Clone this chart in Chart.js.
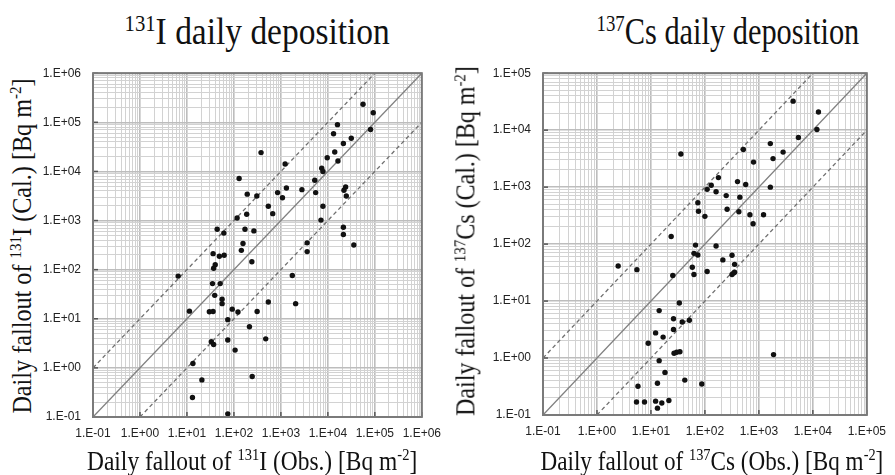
<!DOCTYPE html>
<html><head><meta charset="utf-8">
<script src="https://cdn.jsdelivr.net/npm/chart.js@4.4.1/dist/chart.umd.min.js"></script>
<style>
html,body{margin:0;padding:0;background:#fff;overflow:hidden}
#wrap{position:relative;width:895px;height:475px;overflow:hidden;background:#fff}
.txt{position:absolute;left:0;top:0;white-space:nowrap;font-family:"Liberation Serif","Times New Roman",serif;color:#111;line-height:1;transform-origin:50% 50%}
.txt sup{font-size:0.62em;vertical-align:0.55em;line-height:0}
canvas{position:absolute}
</style></head><body>
<div id="wrap">
<canvas id="c1" width="410" height="400" style="left:40px;top:54px"></canvas>
<canvas id="c2" width="405" height="400" style="left:490px;top:54px"></canvas>
<div class="txt" id="t1" style="font-size:38px"><sup>131</sup>I daily deposition</div>
<div class="txt" id="t2" style="font-size:38px"><sup>137</sup>Cs daily deposition</div>
<div class="txt" id="x1" style="font-size:27px">Daily fallout of <sup>131</sup>I (Obs.) [Bq m<sup>-2</sup>]</div>
<div class="txt" id="x2" style="font-size:27px">Daily fallout of <sup>137</sup>Cs (Obs.) [Bq m<sup>-2</sup>]</div>
<div class="txt" id="y1" style="font-size:27px">Daily fallout of <sup>131</sup>I (Cal.) [Bq m<sup>-2</sup>]</div>
<div class="txt" id="y2" style="font-size:27px">Daily fallout of <sup>137</sup>Cs (Cal.) [Bq m<sup>-2</sup>]</div>
</div>
<script>
// ---- data ----
const iTickLabels = ['1.E-01','1.E+00','1.E+01','1.E+02','1.E+03','1.E+04','1.E+05','1.E+06'];
const csTickLabels = ['1.E-01','1.E+00','1.E+01','1.E+02','1.E+03','1.E+04','1.E+05'];

const iObs = [129,192,307,117,187,44,61,172,266,156,
  144,36,49,62,241,40,37,6.5,35,51,
  39,56,56,11.3,30,36,92,122,312,74,
  214,33,37,74,106,13.4,20.8,245,13.1,74,
  56000,92500,81000,16000,13200,31500,21400,378,14000,9700,
  16400,1230,7400,7850,5260,1310,850,2800,5500,23900,
  22000,24700,1080,540,670,7850,7130,21400,21400,3620,
  35700,3620,1750,540,2060,475];
const iCal = [7160,3450,3160,1130,1340,666,555,666,616,340,
  247,212,188,197,145,126,107,74,52,52,
  30,25,20.3,14.3,13.9,14.1,15.7,13.7,14.1,9.6,
  6.9,3.4,3.0,3.7,2.3,1.23,0.57,0.67,0.25,0.116,
  234000,157000,71300,89600,58600,47300,37100,24200,24900,19000,
  16300,14200,11600,10000,6620,4600,3710,4260,3710,4820,
  4140,3150,2910,1960,1380,1960,1020,730,520,351,
  318,233,76,21.9,20.3,3.9];

const csObs = [35.9,74,76,100,23.7,67,62.7,74,2.47,5.5,
  58.4,25.4,62.7,33.6,14.2,26.2,38,51.5,12.2,16.8,
  8.9,26.2,26.8,30,34.4,14.2,18.2,42.4,13.2,87.5,
  5.75,5.4,7.6,12.2,15.9,21.5,13.2,4310,12700,11900,
  5400,1630,2810,515,1830,796,178,402,570,131,
  110,161,1630,248,444,258,426,682,1220,782,
  161,215,318,355,110,318,340,355,1870];
const csCal = [3810,532,378,307,136,96,68.8,64.4,41.2,35.6,
  39.2,28.2,29.3,9.25,6.8,4.9,4.3,4.6,2.76,2.33,
  1.82,3.16,1.21,1.26,1.29,0.90,0.56,0.41,0.36,0.35,
  0.32,0.169,0.169,0.175,0.162,0.18,0.132,32300,20900,10300,
  7440,5810,4120,4590,3170,2750,1470,1250,1110,1080,
  914,831,1000,710,667,409,370,328,328,227,
  92.5,52.8,63.6,44.1,33,29.3,31,32.2,1.15];

const iRange = [0.1, 1e6];
const csRange = [0.1, 1e5];
const ratioFactor = 10;

// ---- helpers ----
function isMajor(v){ const e = Math.log10(v); return Math.abs(e - Math.round(e)) < 1e-6; }

function pickTickFont(){
  const c = document.createElement('canvas').getContext('2d');
  c.font = '14px monospace'; const a = c.measureText('1.E+06 abc').width;
  c.font = '14px "Liberation Sans Narrow", monospace'; const b = c.measureText('1.E+06 abc').width;
  if (Math.abs(a-b) > 0.5) return {family:'"Liberation Sans Narrow"', size:14};
  return {family:'"Liberation Sans", Arial, sans-serif', size:12};
}
const tickFont = pickTickFont();

function axis(range, labels, isY, fitSize){
  const [min,max] = range;
  const e0 = Math.round(Math.log10(min)), e1 = Math.round(Math.log10(max));
  return {
    type:'logarithmic', min, max,
    afterBuildTicks(scale){
      const t=[];
      for(let e=e0;e<=e1;e++){ for(let k=1;k<=9;k++){ const v=k*Math.pow(10,e); if(v>max*1.0001) break; t.push({value:v}); } }
      scale.ticks=t;
    },
    afterFit(scale){ if(isY) scale.width=fitSize; else scale.height=fitSize; },
    ticks:{autoSkip:false,maxRotation:0,minRotation:0,padding:isY?12:9,color:'#222',font:tickFont,
      callback(v){ if(!isMajor(v)) return ''; return labels[Math.round(Math.log10(v))-e0]; }},
    grid:{drawTicks:false,
      color:(ctx)=> (ctx.tick && isMajor(ctx.tick.value)) ? '#bdbdbd' : '#d2d2d2',
      lineWidth:(ctx)=> (ctx.tick && isMajor(ctx.tick.value)) ? 1.6 : 1},
    border:{display:false}
  };
}

const framePlugin = {
  id:'frame',
  afterDatasetsDraw(chart){
    const {ctx, chartArea:a, scales:{x,y}} = chart;
    ctx.save();
    ctx.strokeStyle='#555'; ctx.lineWidth=1.5;
    x.ticks.forEach(t=>{ if(isMajor(t.value)){ const p=x.getPixelForValue(t.value); ctx.beginPath(); ctx.moveTo(p,a.bottom); ctx.lineTo(p,a.bottom-5); ctx.stroke(); }});
    y.ticks.forEach(t=>{ if(isMajor(t.value)){ const p=y.getPixelForValue(t.value); ctx.beginPath(); ctx.moveTo(a.left,p); ctx.lineTo(a.left+5,p); ctx.stroke(); }});
    ctx.strokeStyle='#7a7a7a'; ctx.lineWidth=2;
    ctx.strokeRect(a.left,a.top,a.right-a.left,a.bottom-a.top);
    ctx.restore();
  }
};

function makeChart(id, obs, cal, range, labels, pad, xFit){
  const [min,max]=range;
  const pts = obs.map((v,i)=>({x:v,y:cal[i]}));
  const lineStyle = {type:'line',showLine:true,pointRadius:0,borderColor:'#808080',borderWidth:1.3,fill:false};
  new Chart(document.getElementById(id), {
    type:'scatter',
    data:{datasets:[
      {data:pts,pointRadius:2.7,pointBackgroundColor:'#111',pointBorderWidth:0,pointHoverRadius:2.7},
      {...lineStyle,data:[{x:min,y:min},{x:max,y:max}]},
      {...lineStyle,borderDash:[4,3],borderColor:'#707070',data:[{x:min,y:min*ratioFactor},{x:max/ratioFactor,y:max}]},
      {...lineStyle,borderDash:[4,3],borderColor:'#707070',data:[{x:min*ratioFactor,y:min},{x:max,y:max/ratioFactor}]}
    ]},
    options:{
      responsive:false,animation:false,
      layout:{padding:pad},
      plugins:{legend:{display:false},tooltip:{enabled:false},title:{display:false}},
      scales:{x:axis(range,labels,false,xFit), y:axis(range,labels,true,53)}
    },
    plugins:[framePlugin]
  });
}

makeChart('c1', iObs, iCal, iRange, iTickLabels, {top:10,right:24,left:0,bottom:0}, 37);
makeChart('c2', csObs, csCal, csRange, csTickLabels, {top:10,right:20,left:0,bottom:0}, 39);

// ---- place the HTML titles ----
function place(id, cx, cy, targetW, rot){
  const el=document.getElementById(id);
  const w=el.offsetWidth, h=el.offsetHeight;
  const sx = targetW / w;
  el.style.transform=`translate(${cx-w/2}px,${cy-h/2}px) rotate(${rot}deg) scale(${sx},1)`;
}
place('t1', 257, 31, 265, 0);
place('t2', 728, 31, 263, 0);
place('x1', 252, 461, 330, 0);
place('x2', 712, 461, 343, 0);
place('y1', 22, 246, 335, -90);
place('y2', 466, 241, 350, -90);
</script>
</body></html>
